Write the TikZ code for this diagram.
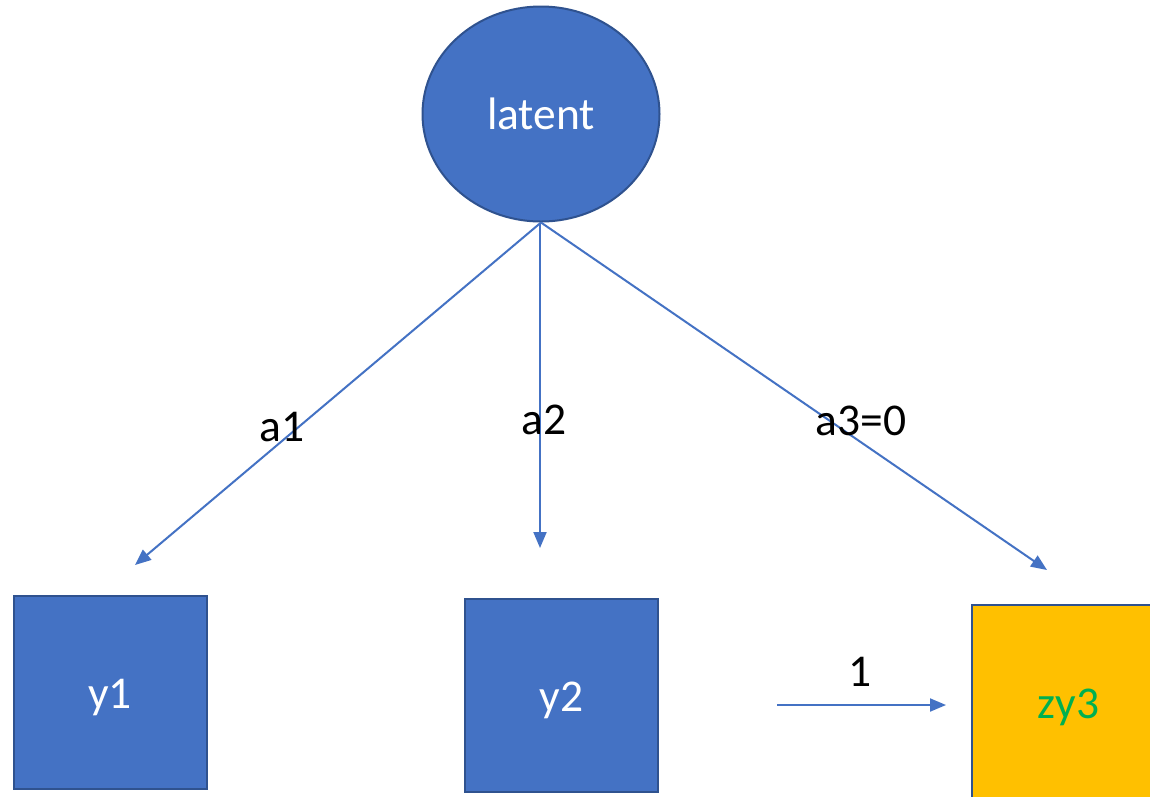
\documentclass[tikz,border=0pt]{standalone}
\usepackage{fontspec}
\setmainfont{Carlito}
\usetikzlibrary{arrows.meta,shapes.geometric}
\definecolor{nodeblue}{HTML}{4472C4}
\definecolor{edgeblue}{HTML}{2F528F}
\definecolor{yell}{HTML}{FFC000}
\definecolor{grn}{HTML}{00B050}
\begin{document}
\begin{tikzpicture}[x=1pt,y=-1pt,
  txt/.style={font=\fontsize{45.5}{54}\selectfont},
  latentnode/.style={ellipse,draw=edgeblue,line width=2pt,fill=nodeblue,minimum width=237pt,minimum height=215pt,inner sep=0pt,text=white,txt},
  obsbox/.style={rectangle,draw=edgeblue,line width=2pt,fill=nodeblue,minimum width=193pt,minimum height=193pt,inner sep=0pt,text=white,txt,text height=32pt,text depth=0pt},
  conn/.style={draw=nodeblue,line width=2pt,-{Triangle[length=16pt,width=13pt]}},
  lab/.style={txt,text=black,inner sep=0pt}]
\clip (0,0) rectangle (1150,796);
\fill[white] (0,0) rectangle (1150,796);
\node[latentnode] (latent) at (541,114) {latent};
\node[obsbox] (y1) at (110,692.5) {y1};
\node[obsbox] (y2) at (561.5,695) {y2};
\node[obsbox,fill=yell,text=grn,minimum height=195pt] (zy3) at (1068.5,702) {zy3};
\coordinate (e1) at (135,565);
\coordinate (e2) at (540,548);
\coordinate (e3) at (1047,570);
\coordinate (s1) at (777,705);
\coordinate (t1) at (946,705);
\draw[conn] (latent.south) -- (e1);
\draw[conn] ([xshift=-1pt]latent.south) -- (e2);
\draw[conn] (latent.south) -- (e3);
\draw[conn] (s1) -- (t1);
\node[lab] (la1) at (282,427) {a1};
\node[lab] (la2) at (544,420) {a2};
\node[lab] (la3) at (861,421) {a3=0};
\node[lab] (l1) at (860,672) {1};
\end{tikzpicture}
\end{document}
